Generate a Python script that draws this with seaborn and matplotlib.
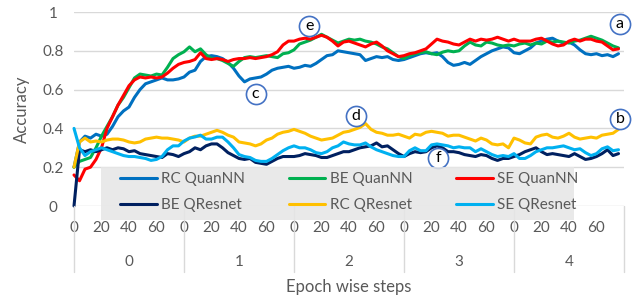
import matplotlib

matplotlib.use("Agg")
import matplotlib.pyplot as plt
import pandas as pd
import seaborn as sns
from matplotlib.patches import Rectangle

# x axis: five epochs, 80 steps each, one reading every 4 steps
EPOCHS = [0, 1, 2, 3, 4]
STEPS_PER_EPOCH = 80
SAMPLE_EVERY = 4
STEP_TICKS = [0, 20, 40, 60]

RC_QUANNN = [
    0.20, 0.33, 0.36, 0.35, 0.37, 0.36, 0.37, 0.41, 0.46, 0.49,
    0.51, 0.56, 0.60, 0.63, 0.64, 0.65, 0.66, 0.65, 0.65, 0.655,
    0.665, 0.69, 0.70, 0.745, 0.77, 0.775, 0.77, 0.76, 0.74, 0.71,
    0.67, 0.64, 0.655, 0.66, 0.665, 0.68, 0.70, 0.71, 0.715, 0.72,
    0.71, 0.715, 0.725, 0.72, 0.735, 0.755, 0.775, 0.78, 0.80, 0.795,
    0.79, 0.785, 0.78, 0.75, 0.76, 0.77, 0.765, 0.77, 0.755, 0.75,
    0.755, 0.765, 0.775, 0.785, 0.79, 0.785, 0.79, 0.77, 0.74, 0.725,
    0.73, 0.74, 0.73, 0.75, 0.77, 0.785, 0.80, 0.81, 0.82, 0.815,
    0.79, 0.785, 0.80, 0.815, 0.84, 0.85, 0.86, 0.865, 0.85, 0.84,
    0.845, 0.83, 0.805, 0.785, 0.78, 0.785, 0.775, 0.78, 0.77, 0.785,
]
BE_QUANNN = [
    0.20, 0.23, 0.24, 0.25, 0.30, 0.36, 0.41, 0.46, 0.52, 0.56,
    0.61, 0.66, 0.68, 0.675, 0.67, 0.68, 0.675, 0.715, 0.76, 0.78,
    0.795, 0.82, 0.795, 0.81, 0.78, 0.76, 0.76, 0.75, 0.735, 0.72,
    0.745, 0.765, 0.77, 0.765, 0.77, 0.775, 0.77, 0.765, 0.785, 0.79,
    0.805, 0.835, 0.845, 0.855, 0.87, 0.885, 0.87, 0.855, 0.84, 0.85,
    0.86, 0.855, 0.86, 0.85, 0.845, 0.835, 0.82, 0.81, 0.79, 0.77,
    0.76, 0.775, 0.785, 0.79, 0.795, 0.785, 0.78, 0.793, 0.80, 0.795,
    0.80, 0.825, 0.845, 0.83, 0.825, 0.845, 0.84, 0.83, 0.825, 0.83,
    0.825, 0.835, 0.84, 0.83, 0.84, 0.835, 0.85, 0.845, 0.85, 0.845,
    0.84, 0.85, 0.855, 0.865, 0.875, 0.865, 0.855, 0.84, 0.825, 0.815,
]
SE_QUANNN = [
    0.16, 0.13, 0.19, 0.20, 0.24, 0.30, 0.40, 0.46, 0.52, 0.57,
    0.62, 0.65, 0.665, 0.66, 0.665, 0.66, 0.665, 0.685, 0.71, 0.73,
    0.74, 0.745, 0.755, 0.79, 0.76, 0.755, 0.76, 0.755, 0.745, 0.755,
    0.76, 0.76, 0.765, 0.76, 0.765, 0.77, 0.78, 0.795, 0.83, 0.85,
    0.85, 0.86, 0.865, 0.86, 0.87, 0.88, 0.87, 0.85, 0.825, 0.845,
    0.85, 0.84, 0.83, 0.82, 0.835, 0.845, 0.825, 0.80, 0.785, 0.77,
    0.775, 0.785, 0.79, 0.80, 0.81, 0.835, 0.86, 0.85, 0.845, 0.835,
    0.83, 0.845, 0.86, 0.85, 0.86, 0.855, 0.86, 0.87, 0.86, 0.85,
    0.86, 0.85, 0.85, 0.85, 0.86, 0.865, 0.85, 0.835, 0.825, 0.83,
    0.85, 0.86, 0.85, 0.86, 0.86, 0.85, 0.845, 0.825, 0.805, 0.81,
]
BE_QRESNET = [
    0.00, 0.29, 0.28, 0.29, 0.28, 0.29, 0.30, 0.29, 0.30, 0.295,
    0.28, 0.285, 0.27, 0.265, 0.26, 0.255, 0.25, 0.27, 0.265, 0.255,
    0.27, 0.28, 0.30, 0.29, 0.31, 0.32, 0.32, 0.30, 0.275, 0.26,
    0.245, 0.24, 0.245, 0.225, 0.22, 0.215, 0.23, 0.245, 0.255, 0.255,
    0.255, 0.26, 0.27, 0.265, 0.26, 0.25, 0.25, 0.26, 0.27, 0.28,
    0.28, 0.29, 0.30, 0.305, 0.31, 0.325, 0.305, 0.31, 0.29, 0.27,
    0.255, 0.27, 0.28, 0.275, 0.28, 0.30, 0.31, 0.30, 0.28, 0.28,
    0.275, 0.265, 0.26, 0.255, 0.265, 0.26, 0.245, 0.235, 0.245, 0.245,
    0.255, 0.265, 0.28, 0.29, 0.30, 0.28, 0.265, 0.27, 0.265, 0.26,
    0.255, 0.27, 0.255, 0.24, 0.245, 0.255, 0.27, 0.29, 0.26, 0.27,
]
RC_QRESNET = [
    0.20, 0.33, 0.35, 0.33, 0.335, 0.33, 0.34, 0.345, 0.345, 0.34,
    0.33, 0.325, 0.33, 0.345, 0.35, 0.355, 0.35, 0.35, 0.345, 0.34,
    0.33, 0.35, 0.36, 0.36, 0.37, 0.38, 0.39, 0.38, 0.365, 0.355,
    0.33, 0.325, 0.32, 0.31, 0.32, 0.34, 0.35, 0.37, 0.38, 0.385,
    0.395, 0.385, 0.375, 0.36, 0.35, 0.34, 0.345, 0.35, 0.365, 0.38,
    0.385, 0.395, 0.405, 0.425, 0.395, 0.38, 0.375, 0.365, 0.365, 0.37,
    0.36, 0.35, 0.37, 0.365, 0.38, 0.385, 0.38, 0.375, 0.36, 0.365,
    0.365, 0.355, 0.345, 0.335, 0.35, 0.34, 0.32, 0.315, 0.32, 0.30,
    0.35, 0.34, 0.325, 0.32, 0.355, 0.365, 0.37, 0.355, 0.35, 0.36,
    0.375, 0.355, 0.345, 0.35, 0.355, 0.35, 0.365, 0.37, 0.375, 0.395,
]
SE_QRESNET = [
    0.40, 0.30, 0.26, 0.28, 0.29, 0.30, 0.29, 0.28, 0.27, 0.26,
    0.255, 0.255, 0.25, 0.245, 0.235, 0.24, 0.255, 0.29, 0.31, 0.31,
    0.335, 0.35, 0.356, 0.365, 0.345, 0.345, 0.355, 0.355, 0.33, 0.30,
    0.265, 0.255, 0.25, 0.235, 0.23, 0.23, 0.245, 0.265, 0.285, 0.30,
    0.31, 0.30, 0.30, 0.29, 0.275, 0.27, 0.28, 0.30, 0.31, 0.33,
    0.32, 0.315, 0.315, 0.325, 0.305, 0.29, 0.28, 0.27, 0.26, 0.255,
    0.255, 0.285, 0.30, 0.285, 0.285, 0.315, 0.32, 0.315, 0.31, 0.30,
    0.305, 0.30, 0.30, 0.28, 0.295, 0.28, 0.265, 0.255, 0.26, 0.255,
    0.27, 0.245, 0.245, 0.26, 0.28, 0.29, 0.30, 0.30, 0.305, 0.31,
    0.30, 0.29, 0.295, 0.275, 0.26, 0.27, 0.295, 0.305, 0.285, 0.29,
]

# drawing order as in the source chart
SERIES = {
    "RC QuanNN": RC_QUANNN,
    "BE QuanNN": BE_QUANNN,
    "SE QuanNN": SE_QUANNN,
    "BE QResnet": BE_QRESNET,
    "RC QResnet": RC_QRESNET,
    "SE QResnet": SE_QRESNET,
}
COLORS = {
    "RC QuanNN": "#0070C0",
    "BE QuanNN": "#00B050",
    "SE QuanNN": "#FF0000",
    "BE QResnet": "#002060",
    "RC QResnet": "#FFC000",
    "SE QResnet": "#00B0F0",
}
# legend reads row-wise in the source; matplotlib fills columns
LEGEND_ORDER = [
    "RC QuanNN", "BE QResnet",
    "BE QuanNN", "RC QResnet",
    "SE QuanNN", "SE QResnet",
]

# circled callouts: (letter, step index, accuracy)
CALLOUTS = [
    ("a", 397, 0.94),
    ("b", 397, 0.45),
    ("c", 132, 0.575),
    ("d", 205, 0.465),
    ("e", 171, 0.93),
    ("f", 265, 0.245),
]

TEXT = "#595959"
GRID = "#d9d9d9"

steps = [
    e * STEPS_PER_EPOCH + s
    for e in EPOCHS
    for s in range(0, STEPS_PER_EPOCH, SAMPLE_EVERY)
]
rows = []
for name, values in SERIES.items():
    for x, v in zip(steps, values):
        rows.append({"step": x, "accuracy": v, "model": name})
df = pd.DataFrame(rows)

sns.set_theme(style="white")
plt.rcParams["font.family"] = ["Lato", "DejaVu Sans"]

W, H = 641, 300
fig = plt.figure(figsize=(W / 100, H / 100), dpi=100)
ax = fig.add_axes([74 / W, 1 - 206 / H, 550 / W, 194 / H])

sns.lineplot(
    data=df,
    x="step",
    y="accuracy",
    hue="model",
    hue_order=list(SERIES),
    palette=COLORS,
    linewidth=2.2,
    legend=False,
    ax=ax,
)
for line in ax.lines:
    line.set_clip_on(False)
    line.set_solid_joinstyle("round")

total = len(EPOCHS) * STEPS_PER_EPOCH
ax.set_xlim(0, total)
ax.set_ylim(0, 1)
for spine in ax.spines.values():
    spine.set_visible(False)

ax.set_yticks([0, 0.2, 0.4, 0.6, 0.8, 1.0])
ax.set_yticklabels(["0", "0.2", "0.4", "0.6", "0.8", "1"])
ax.yaxis.grid(True, color=GRID, linewidth=1.0)
ax.set_axisbelow(True)
for lab in ax.get_yticklabels():
    lab.set_horizontalalignment("center")
ax.tick_params(axis="y", length=0, pad=15, labelsize=11, labelcolor=TEXT)

ax.set_xticks([e * STEPS_PER_EPOCH + s for e in EPOCHS for s in STEP_TICKS])
ax.set_xticklabels([str(s) for e in EPOCHS for s in STEP_TICKS])
ax.tick_params(axis="x", length=0, pad=11, labelsize=11, labelcolor=TEXT)
ax.set_xlabel("")
ax.set_ylabel("")

# epoch group separators and labels under the step ticks
xt = ax.get_xaxis_transform()
for e in range(len(EPOCHS) + 1):
    ax.plot(
        [e * STEPS_PER_EPOCH] * 2, [0, -0.34],
        transform=xt, color=GRID, linewidth=1.0, clip_on=False,
    )
for e in EPOCHS:
    ax.text(
        e * STEPS_PER_EPOCH + STEPS_PER_EPOCH / 2, -0.289, str(e),
        transform=xt, ha="center", va="center", fontsize=11, color=TEXT,
    )

ax.text(0.5, -0.418, "Epoch wise steps", transform=ax.transAxes,
        ha="center", va="center", fontsize=12, color=TEXT)
ax.text(-0.0945, 0.5, "Accuracy", transform=ax.transAxes, rotation=90,
        ha="center", va="center", fontsize=12, color=TEXT)

# callout circles
for letter, x, y in CALLOUTS:
    ax.scatter([x], [y], s=210, facecolor="white", edgecolor="#4472C4",
               linewidth=1.2, zorder=10, clip_on=False)
    ax.text(x, y, letter, ha="center", va="center", fontsize=11.5,
            color="black", zorder=11)

# legend with grey panel
fig.patches.append(
    Rectangle((101 / W, 1 - 220 / H), 473 / W, 53 / H,
              transform=fig.transFigure, facecolor="#e6e6e6",
              edgecolor="none", alpha=0.85, zorder=1)
)
by_name = dict(zip(SERIES, ax.lines))
fig.legend(
    [by_name[n] for n in LEGEND_ORDER],
    LEGEND_ORDER,
    ncol=3,
    loc="upper left",
    bbox_to_anchor=(120 / W, 1 - 172 / H),
    frameon=False,
    borderpad=0,
    borderaxespad=0,
    handlelength=2.4,
    handletextpad=0.3,
    columnspacing=2.85,
    labelspacing=0.78,
    fontsize=11,
    labelcolor=TEXT,
)

fig.savefig("out.png", dpi=100)
